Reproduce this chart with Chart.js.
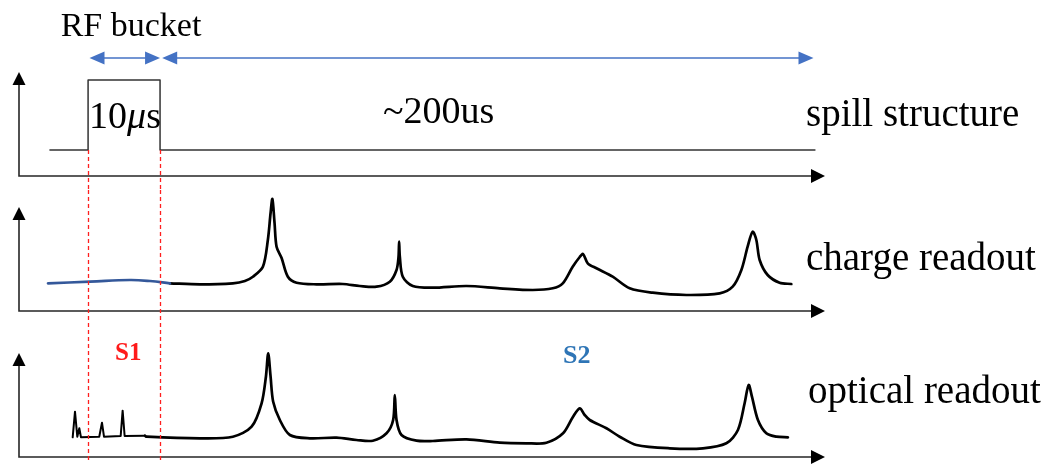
<!DOCTYPE html>
<html>
<head>
<meta charset="utf-8">
<script src="https://cdn.jsdelivr.net/npm/chart.js@4.4.1/dist/chart.umd.min.js"></script>
<style>
  html, body { margin: 0; padding: 0; background: #ffffff; }
  #wrap { position: relative; width: 1045px; height: 465px; overflow: hidden; }
  #wrap canvas { position: absolute; left: 0; }
</style>
</head>
<body>
<div id="wrap">
  <canvas id="spill" width="1045" height="190" style="top:0px"></canvas>
  <canvas id="charge" width="1045" height="140" style="top:190px"></canvas>
  <canvas id="optical" width="1045" height="135" style="top:330px"></canvas>
</div>
<script>
// ---- shared time axis (schematic units) ----
const timeMax = 112;
const bucketStart = 9.6;   // RF bucket opens
const bucketEnd = 19.6;    // RF bucket closes
const spillEnd = 110.6;

// ---- spill structure ----
const spillX = [4.3, bucketStart, bucketStart, bucketEnd, bucketEnd, spillEnd];
const spillY = [2.6, 2.6, 9.6, 9.6, 2.6, 2.6];

// ---- charge readout: quiet part during the bucket, then drift signals ----
const chargeEarlyX = [4.03, 9.86, 15.42, 18.19, 20.97];
const chargeEarlyY = [2.77, 2.93, 3.10, 3.00, 2.77];
const chargeX = [20.97, 25.14, 29.72, 31.39, 32.5, 33.89, 34.58, 34.96, 35.21, 35.51, 35.79, 36.49, 37.36, 38.57,
  41.35, 45.0, 47.36, 49.68, 51.53, 52.46, 52.74, 52.82, 52.92, 53.33, 54.72, 57.5, 62.18, 66.81, 71.39,
  74.17, 75.56, 76.94, 77.92, 78.38, 79.03, 80.24, 82.5, 84.86, 88.06, 92.74, 97.36, 99.17, 100.38,
  101.25, 101.94, 102.46, 102.92, 104.03, 105.69, 107.32];
const chargeY = [2.77, 2.67, 2.77, 3.0, 3.43, 4.43, 7.1, 9.8, 11.2, 8.8, 6.43, 5.3, 3.43, 2.83,
  2.67, 2.7, 2.5, 2.43, 2.93, 4.1, 5.43, 6.93, 5.43, 3.43, 2.5, 2.33, 2.5, 2.27, 2.1,
  2.27, 2.77, 4.43, 5.4, 5.7, 4.77, 4.27, 3.43, 2.27, 1.83, 1.6, 1.77, 2.43, 4.1,
  6.43, 7.93, 7.1, 5.1, 3.6, 2.83, 2.7];

// ---- optical readout: prompt S1 flashes, then S2 light ----
const opticalS1X = [7.46, 7.78, 8.1, 8.38, 8.61, 11.15, 11.53, 11.81, 14.13, 14.4, 14.68, 17.5];
const opticalS1Y = [1.97, 4.53, 2.03, 2.87, 1.97, 2.03, 3.43, 2.03, 2.1, 4.63, 2.1, 2.13];
const opticalX = [17.5, 17.74, 25.14, 29.72, 32.32, 33.71, 34.31, 34.63, 34.96, 35.32, 36.25, 37.64, 40.42,
  44.13, 46.9, 49.17, 51.07, 51.99, 52.22, 52.46, 53.15, 55.24, 57.5, 62.18, 66.81, 70.51, 73.29,
  75.6, 76.99, 77.92, 78.61, 79.31, 81.63, 83.47, 85.79, 90.42, 95.04, 98.29, 99.9, 100.83, 101.39,
  101.85, 102.68, 103.85, 105.24, 106.85];
const opticalY = [2.13, 2.03, 1.87, 2.03, 3.03, 5.37, 8.03, 10.37, 8.03, 5.53, 3.7, 2.2, 1.87,
  1.93, 1.7, 1.63, 2.37, 3.7, 6.2, 3.7, 2.2, 1.63, 1.6, 1.77, 1.43, 1.37, 1.43,
  2.37, 4.03, 4.87, 4.2, 3.7, 2.87, 2.03, 1.2, 0.87, 0.87, 1.37, 2.7, 5.37, 7.2,
  6.03, 3.7, 2.37, 2.03, 1.97];

const SERIF = '"Liberation Serif", "Times New Roman", Times, serif';

function pts(xs, ys) { return xs.map((x, i) => ({ x: x, y: ys[i] })); }

function head(ctx, x, y, dir, len, half, color) {
  ctx.save();
  ctx.fillStyle = color;
  ctx.beginPath();
  if (dir === 'up') { ctx.moveTo(x, y); ctx.lineTo(x - half, y + len); ctx.lineTo(x + half, y + len); }
  else if (dir === 'right') { ctx.moveTo(x, y); ctx.lineTo(x - len, y - half); ctx.lineTo(x - len, y + half); }
  else { ctx.moveTo(x, y); ctx.lineTo(x + len, y - half); ctx.lineTo(x + len, y + half); }
  ctx.closePath();
  ctx.fill();
  ctx.restore();
}

// axes with arrow tips, RF-bucket guides, spans and labels
const decor = {
  id: 'decor',
  afterDraw(chart, args, o) {
    const ctx = chart.ctx;
    const xs = chart.scales.x, ys = chart.scales.y;
    const a = chart.chartArea;

    // axes
    const top = ys.getPixelForValue(o.axisTop);
    ctx.save();
    ctx.strokeStyle = '#262626';
    ctx.lineWidth = 1.6;
    ctx.beginPath();
    ctx.moveTo(a.left, top + 10);
    ctx.lineTo(a.left, a.bottom);
    ctx.lineTo(a.right - 12, a.bottom);
    ctx.stroke();
    ctx.restore();
    head(ctx, a.left, top, 'up', 13, 6.5, '#000');
    head(ctx, a.right, a.bottom, 'right', 14, 7, '#000');

    // RF bucket guides
    ctx.save();
    ctx.strokeStyle = '#ff1f1f';
    ctx.lineWidth = 1.3;
    ctx.setLineDash([4, 3]);
    [bucketStart, bucketEnd].forEach(function (t) {
      const px = Math.round(xs.getPixelForValue(t)) + 0.5;
      ctx.beginPath();
      ctx.moveTo(px, o.guideFrom == null ? 0 : ys.getPixelForValue(o.guideFrom));
      ctx.lineTo(px, o.guideTo == null ? chart.height : o.guideTo);
      ctx.stroke();
    });
    ctx.restore();

    // horizontal spans
    (o.spans || []).forEach(function (s) {
      const x0 = xs.getPixelForValue(s.from), x1 = xs.getPixelForValue(s.to);
      const y = ys.getPixelForValue(s.y);
      ctx.save();
      ctx.strokeStyle = '#4472c4';
      ctx.lineWidth = 1.3;
      ctx.beginPath();
      ctx.moveTo(x0 + 10, y);
      ctx.lineTo(x1 - 10, y);
      ctx.stroke();
      ctx.restore();
      head(ctx, x0, y, 'left', 15, 6.5, '#4472c4');
      head(ctx, x1, y, 'right', 15, 6.5, '#4472c4');
    });

    // labels
    (o.labels || []).forEach(function (l) {
      ctx.save();
      ctx.fillStyle = l.color || '#000';
      ctx.textBaseline = 'alphabetic';
      if (l.parts) {
        let w = 0;
        l.parts.forEach(function (p) { ctx.font = p.font; w += ctx.measureText(p.t).width; });
        let x = l.cx - w / 2;
        l.parts.forEach(function (p) { ctx.font = p.font; ctx.fillText(p.t, x, l.y); x += ctx.measureText(p.t).width; });
      } else {
        ctx.font = l.font;
        ctx.textAlign = l.align || 'left';
        ctx.fillText(l.text, l.x, l.y);
      }
      ctx.restore();
    });
  }
};

function makeChart(id, datasets, pad, deco) {
  return new Chart(document.getElementById(id), {
    type: 'line',
    data: { datasets: datasets },
    options: {
      responsive: false,
      animation: false,
      devicePixelRatio: 1,
      layout: { padding: { left: 19, right: 220, top: pad.top, bottom: pad.bottom } },
      elements: { point: { radius: 0 } },
      scales: {
        x: { type: 'linear', min: 0, max: timeMax, display: false },
        y: { type: 'linear', min: 0, max: 12, display: false }
      },
      plugins: { legend: { display: false }, tooltip: { enabled: false }, decor: deco }
    },
    plugins: [decor]
  });
}

function line(data, color, width, tension) {
  return {
    data: data, borderColor: color, borderWidth: width, fill: false, clip: false,
    cubicInterpolationMode: 'default', tension: tension,
    borderJoinStyle: 'round', borderCapStyle: 'round'
  };
}

makeChart('spill', [line(pts(spillX, spillY), '#333333', 1.5, 0)], { top: 56, bottom: 14 }, {
  axisTop: 10.4,
  guideFrom: 2.6,
  guideTo: null,
  spans: [{ from: bucketStart + 0.2, to: bucketEnd, y: 11.8 }, { from: bucketEnd + 0.3, to: spillEnd - 0.2, y: 11.8 }],
  labels: [
    { text: 'RF bucket', x: 131, y: 36, align: 'center', font: '34px ' + SERIF },
    { parts: [
        { t: '10', font: '38px ' + SERIF },
        { t: 'μ', font: 'italic 38px ' + SERIF },
        { t: 's', font: '38px ' + SERIF }
      ], cx: 125, y: 128 },
    { text: '~200us', x: 383, y: 123, font: '38px ' + SERIF },
    { text: 'spill structure', x: 806, y: 126, font: '39px ' + SERIF }
  ]
});

makeChart('charge', [
  line(pts(chargeEarlyX, chargeEarlyY), '#34589a', 2.7, 0.4),
  line(pts(chargeX, chargeY), '#000000', 2.7, 0.3)
], { top: 1, bottom: 19 }, {
  axisTop: 10.4,
  guideFrom: null,
  guideTo: null,
  labels: [
    { text: 'charge readout', x: 806, y: 80, font: '39px ' + SERIF }
  ]
});

makeChart('optical', [
  line(pts(opticalS1X, opticalS1Y), '#000000', 2, 0),
  line(pts(opticalX, opticalY), '#000000', 2.7, 0.3)
], { top: 7, bottom: 8 }, {
  axisTop: 10.4,
  guideFrom: null,
  guideTo: 132,
  labels: [
    { text: 'S1', x: 115, y: 30, font: 'bold 25px ' + SERIF, color: '#ff1a1a' },
    { text: 'S2', x: 563, y: 33, font: 'bold 26px ' + SERIF, color: '#2e75b6' },
    { text: 'optical readout', x: 808, y: 73, font: '39px ' + SERIF }
  ]
});
</script>
</body>
</html>
